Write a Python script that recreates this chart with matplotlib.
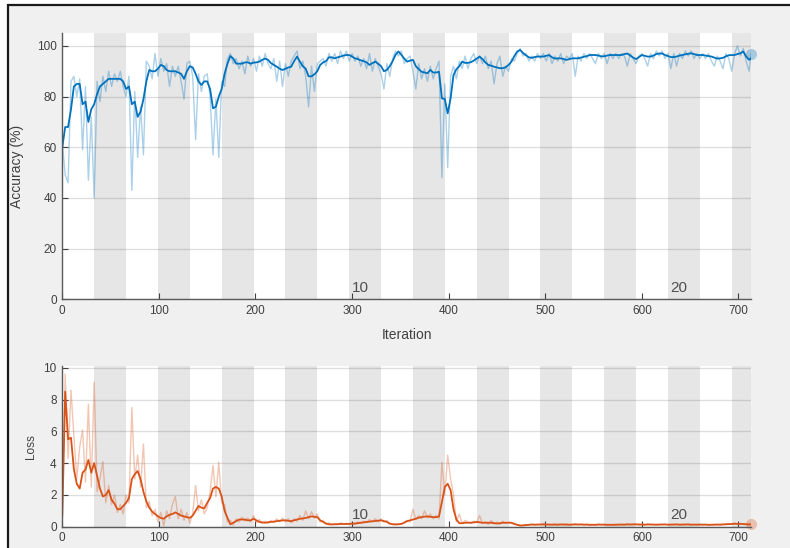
import numpy as np
import matplotlib
matplotlib.use("Agg")
import matplotlib.pyplot as plt
from matplotlib.patches import Rectangle

# ---------------- data ----------------
iters_per_epoch = 33
max_iteration = 713
epoch_labels = [10, 20]
acc_ticks = [0, 20, 40, 60, 80, 100]
loss_ticks = [0, 2, 4, 6, 8, 10]
iter_ticks = [0, 100, 200, 300, 400, 500, 600, 700]

# iterations sampled every 3, plus the final iteration
iterations = list(range(0, 712, 3)) + [713]

acc_raw = [
    62, 49, 46, 86, 88, 80, 87, 59, 84, 47,
    72, 40, 86, 78, 88, 82, 90, 84, 89, 86,
    90, 84, 80, 88, 43, 82, 56, 76, 57, 94,
    92, 87, 97, 88, 95, 90, 93, 84, 92, 88,
    92, 86, 79, 93, 94, 88, 63, 89, 82, 88,
    89, 80, 57, 79, 56, 86, 84, 95, 97, 93,
    95, 91, 94, 89, 96, 92, 95, 90, 96, 92,
    97, 93, 91, 95, 86, 94, 84, 93, 88, 94,
    96, 98, 91, 94, 88, 76, 92, 82, 93, 94,
    95, 92, 97, 94, 97, 93, 98, 95, 98, 94,
    97, 94, 96, 92, 95, 91, 97, 90, 95, 92,
    89, 83, 93, 88, 95, 98, 96, 98, 93, 95,
    96, 90, 83, 93, 87, 91, 86, 92, 87, 91,
    94, 48, 85, 52, 88, 92, 87, 94, 91, 96,
    91, 95, 97, 93, 96, 93, 96, 91, 94, 85,
    93, 96, 88, 92, 90, 95, 94, 97, 99, 96,
    97, 94, 96, 94, 97, 95, 97, 94, 97, 93,
    96, 94, 97, 93, 96, 95, 97, 88, 96, 94,
    97, 95, 97, 95, 93, 97, 95, 97, 93, 97,
    95, 97, 95, 97, 96, 92, 97, 95, 93, 96,
    97, 95, 92, 97, 95, 98, 96, 98, 95, 97,
    91, 97, 92, 97, 95, 98, 96, 98, 95, 97,
    95, 97, 95, 97, 94, 92, 96, 94, 91, 97,
    95, 90, 97, 100, 96, 99, 94, 90, 96.8,
]

acc_smooth = [
    60, 68, 68, 75, 84, 85, 85, 77, 78, 70,
    75, 77, 81, 84, 85, 86, 87, 87, 87, 87,
    87, 86, 83, 84, 77, 78, 72, 74, 79, 86,
    90.5, 90, 90, 91, 92.5, 92, 90.5, 90, 90, 90,
    89.5, 89, 87, 90, 92, 91.5, 89, 86, 84.6, 86,
    86, 83, 75.4, 76, 80, 83, 89, 93, 96, 95,
    93, 93, 93, 93.5, 93.5, 93, 93.4, 93.5, 93.8, 94.5,
    95, 94.5, 93.2, 92.5, 91.8, 91, 90.5, 91, 91.5, 91.8,
    94, 95.8, 93.8, 92, 91, 88, 88, 88.8, 90, 92.5,
    93.5, 94, 95.5, 95.5, 95.1, 95.5, 95.8, 96.2, 96.4, 96.4,
    95.8, 95.1, 94.8, 94.3, 94, 93.5, 92.5, 93.2, 93.8, 93,
    92, 90, 90.5, 92, 94, 96.5, 97.8, 96.5, 95, 93.8,
    94.2, 94.5, 92, 90.8, 89.8, 89.5, 89.2, 90.5, 89.5, 89.5,
    89.8, 79.3, 79, 73.4, 79.3, 88.5, 90.8, 92, 93.8, 93.3,
    93.3, 93.6, 94.2, 95, 95.8, 94.8, 93.5, 92.5, 92.2, 91.8,
    91.5, 91.2, 91.2, 91.6, 92.5, 93.8, 96, 97.8, 98.4, 97.2,
    96.3, 95.5, 95.3, 95.6, 95.8, 95.8, 95.8, 96.1, 96.4, 95.5,
    95, 95.1, 95.1, 94.8, 94.5, 94.8, 95.1, 95.1, 95.1, 95.4,
    95.7, 96, 96.4, 96.4, 96.4, 96.2, 95.9, 95.9, 96.2, 96.4,
    96.4, 96.4, 96.4, 96.4, 96.8, 97, 96.2, 95.4, 94.8, 95.6,
    96.4, 96.1, 95.8, 95.8, 96.2, 96.8, 97, 97, 96.4, 96,
    95.6, 95.6, 95.8, 96.2, 96.4, 96.7, 96.9, 97.1, 96.8, 96.4,
    96.4, 96.4, 96.2, 96, 95.8, 95.4, 95, 95.1, 95.3, 95.9,
    96.3, 96.4, 96.4, 96.8, 97.1, 97.8, 95.8, 94.5, 95.1,
]

loss_raw = [
    0.7, 9.6, 4.3, 8.6, 5.7, 3.0, 5.0, 6.1, 2.8, 7.7,
    2.5, 9.1, 2.2, 3.0, 4.1, 1.5, 2.6, 1.4, 2.0, 0.9,
    1.4, 0.8, 2.0, 1.5, 7.5, 3.0, 4.5, 2.5, 5.2, 1.2,
    1.6, 0.7, 1.1, 0.3, 0.9, 0.05, 1.0, 0.5, 1.4, 1.9,
    0.5, 1.1, 0.4, 0.9, 0.2, 0.8, 2.6, 1.0, 1.7, 0.8,
    1.2, 2.2, 3.85, 1.9, 4.05, 1.5, 1.4, 0.3, 0.4, 0.1,
    0.5, 0.3, 0.6, 0.35, 0.55, 0.3, 0.7, 0.25, 0.45, 0.2,
    0.35, 0.2, 0.4, 0.25, 0.5, 0.3, 0.55, 0.3, 0.5, 0.25,
    0.5, 0.35, 0.7, 0.4, 1.0, 0.5, 0.95, 0.55, 0.8, 0.3,
    0.4, 0.15, 0.25, 0.1, 0.2, 0.12, 0.25, 0.15, 0.22, 0.12,
    0.25, 0.15, 0.3, 0.2, 0.35, 0.25, 0.45, 0.3, 0.5, 0.3,
    0.5, 0.3, 0.4, 0.15, 0.2, 0.1, 0.2, 0.15, 0.3, 0.4,
    0.3, 1.1, 0.45, 0.7, 0.5, 1.0, 0.55, 0.8, 0.5, 0.7,
    0.5, 4.05, 2.0, 4.5, 3.0, 2.0, 0.3, 0.8, 0.2, 0.4,
    0.3, 0.2, 0.35, 0.25, 0.7, 0.2, 0.3, 0.15, 0.4, 0.2,
    0.3, 0.15, 0.35, 0.2, 0.3, 0.2, 0.15, 0.1, 0.05, 0.1,
    0.15, 0.1, 0.18, 0.1, 0.16, 0.12, 0.2, 0.1, 0.15, 0.12,
    0.18, 0.1, 0.15, 0.12, 0.17, 0.09, 0.15, 0.2, 0.1, 0.16,
    0.1, 0.16, 0.09, 0.14, 0.1, 0.18, 0.12, 0.15, 0.09, 0.14,
    0.1, 0.16, 0.12, 0.17, 0.1, 0.2, 0.12, 0.18, 0.14, 0.1,
    0.16, 0.1, 0.18, 0.12, 0.15, 0.09, 0.16, 0.12, 0.17, 0.1,
    0.15, 0.11, 0.17, 0.1, 0.16, 0.12, 0.18, 0.1, 0.15, 0.12,
    0.16, 0.1, 0.15, 0.09, 0.14, 0.12, 0.17, 0.11, 0.16, 0.18,
    0.2, 0.14, 0.25, 0.15, 0.2, 0.13, 0.18, 0.1, 0.2,
]

loss_smooth = [
    0.7, 8.5, 5.5, 5.6, 3.6, 2.7, 2.4, 3.4, 3.6, 4.2,
    3.4, 4.0, 3.2, 2.4, 1.9, 2.0, 2.3, 1.7, 1.45, 1.1,
    1.1, 1.3, 1.5, 1.8, 3.0, 3.3, 3.5, 3.0, 2.2, 1.6,
    1.2, 0.95, 0.8, 0.65, 0.55, 0.5, 0.65, 0.75, 0.8, 0.9,
    0.8, 0.7, 0.65, 0.6, 0.55, 0.7, 1.0, 1.3, 1.2, 1.15,
    1.5, 1.8, 2.4, 2.5, 2.4, 1.9, 1.0, 0.55, 0.15, 0.25,
    0.35, 0.45, 0.45, 0.45, 0.4, 0.4, 0.5, 0.4, 0.3, 0.27,
    0.25, 0.28, 0.3, 0.32, 0.35, 0.37, 0.4, 0.4, 0.37, 0.35,
    0.4, 0.45, 0.5, 0.52, 0.55, 0.6, 0.65, 0.62, 0.6, 0.4,
    0.3, 0.2, 0.15, 0.15, 0.15, 0.16, 0.17, 0.17, 0.17, 0.18,
    0.19, 0.2, 0.22, 0.25, 0.27, 0.3, 0.32, 0.34, 0.36, 0.38,
    0.4, 0.35, 0.3, 0.2, 0.15, 0.15, 0.15, 0.18, 0.25, 0.35,
    0.4, 0.45, 0.5, 0.57, 0.6, 0.63, 0.65, 0.62, 0.6, 0.6,
    0.65, 1.55, 2.5, 2.7, 2.3, 1.1, 0.45, 0.22, 0.22, 0.25,
    0.25, 0.25, 0.27, 0.3, 0.28, 0.25, 0.25, 0.25, 0.25, 0.22,
    0.2, 0.22, 0.25, 0.25, 0.25, 0.25, 0.18, 0.12, 0.08, 0.08,
    0.1, 0.12, 0.13, 0.13, 0.13, 0.14, 0.14, 0.14, 0.13, 0.13,
    0.13, 0.13, 0.14, 0.14, 0.13, 0.13, 0.13, 0.14, 0.14, 0.14,
    0.13, 0.13, 0.12, 0.12, 0.12, 0.13, 0.13, 0.13, 0.12, 0.12,
    0.12, 0.12, 0.13, 0.13, 0.13, 0.14, 0.14, 0.14, 0.15, 0.14,
    0.13, 0.13, 0.14, 0.14, 0.13, 0.13, 0.13, 0.14, 0.14, 0.13,
    0.13, 0.14, 0.14, 0.13, 0.13, 0.14, 0.14, 0.13, 0.13, 0.13,
    0.13, 0.13, 0.13, 0.12, 0.12, 0.13, 0.13, 0.13, 0.14, 0.15,
    0.16, 0.17, 0.18, 0.18, 0.18, 0.17, 0.15, 0.14, 0.15,
]

# ---------------- style ----------------
BLUE = "#0072BD"
ORANGE = "#D95319"
BAND = "#e6e6e6"
TXT = "#404040"
plt.rcParams["font.family"] = ["Liberation Sans", "DejaVu Sans"]

W, H = 790, 548
fig = plt.figure(figsize=(W / 100, H / 100), dpi=100, facecolor="white")

# window panel with dark frame at left/top
fig.patches.append(Rectangle((8 / W, -0.1), 1.2, (H - 5) / H + 0.1,
                             transform=fig.transFigure, facecolor="#f0f0f0",
                             edgecolor="#1a1a1a", linewidth=1.6, zorder=-10))

def px_axes(x0, x1, ytop, ybot):
    return fig.add_axes([x0 / W, 1 - ybot / H, (x1 - x0) / W, (ybot - ytop) / H])

ax1 = px_axes(62.3, 751, 33, 299.3)
ax2 = px_axes(62.3, 751, 365.7, 526.7)

n_epochs = int(np.ceil(max_iteration / iters_per_epoch))

def style(ax, ylim, yticks, raw, smooth, color, label, label_x, label_size):
    ax.set_facecolor("white")
    for k in range(2, n_epochs + 1, 2):
        ax.axvspan((k - 1) * iters_per_epoch, k * iters_per_epoch,
                   color=BAND, lw=0, zorder=0)
    ax.set_xlim(0, max_iteration)
    ax.set_ylim(*ylim)
    ax.set_yticks(yticks)
    ax.set_xticks(iter_ticks)
    ax.grid(axis="y", color=(0.15, 0.15, 0.15), alpha=0.15, lw=1.0, zorder=1)
    ax.set_axisbelow(True)
    for s in ("top", "right"):
        ax.spines[s].set_visible(False)
    for s in ("left", "bottom"):
        ax.spines[s].set_color("#5a5a5a")
        ax.spines[s].set_linewidth(1.0)
        ax.spines[s].set_zorder(5)
    ax.tick_params(direction="in", length=4.5, width=0.8, color="#404040",
                   labelsize=8.5, labelcolor=TXT, pad=4)
    ax.plot(iterations, raw, color=color, alpha=0.33, lw=1.0, zorder=2)
    ax.plot(iterations, smooth, color=color, lw=1.3, zorder=3)
    ax.plot(iterations[-1], raw[-1], "o", ms=8, color=color, alpha=0.3,
            mec="none", zorder=4, clip_on=False)
    ax.set_ylabel(label, fontsize=label_size, color=TXT)
    ax.yaxis.set_label_coords(label_x, 0.5)
    for e in epoch_labels:
        ax.annotate(str(e), xy=((e - 1) * iters_per_epoch, 0),
                    xytext=(2, 5.5), textcoords="offset points",
                    fontsize=11, color="#505050", va="baseline", ha="left",
                    zorder=6)

style(ax1, (0, 105.1), acc_ticks, acc_raw, acc_smooth, BLUE,
      "Accuracy (%)", (24 - 62.3) / 688.7, 10)
style(ax2, (0, 10.13), loss_ticks, loss_raw, loss_smooth, ORANGE,
      "Loss", (37 - 62.3) / 688.7, 8.5)

ax1.set_xlabel("Iteration", fontsize=10, color=TXT)
ax1.xaxis.set_label_coords(0.5, (299.3 - 335) / 266.3)
ax1.xaxis.label.set_va("center")

fig.savefig("out.png", dpi=100, facecolor=fig.get_facecolor())
